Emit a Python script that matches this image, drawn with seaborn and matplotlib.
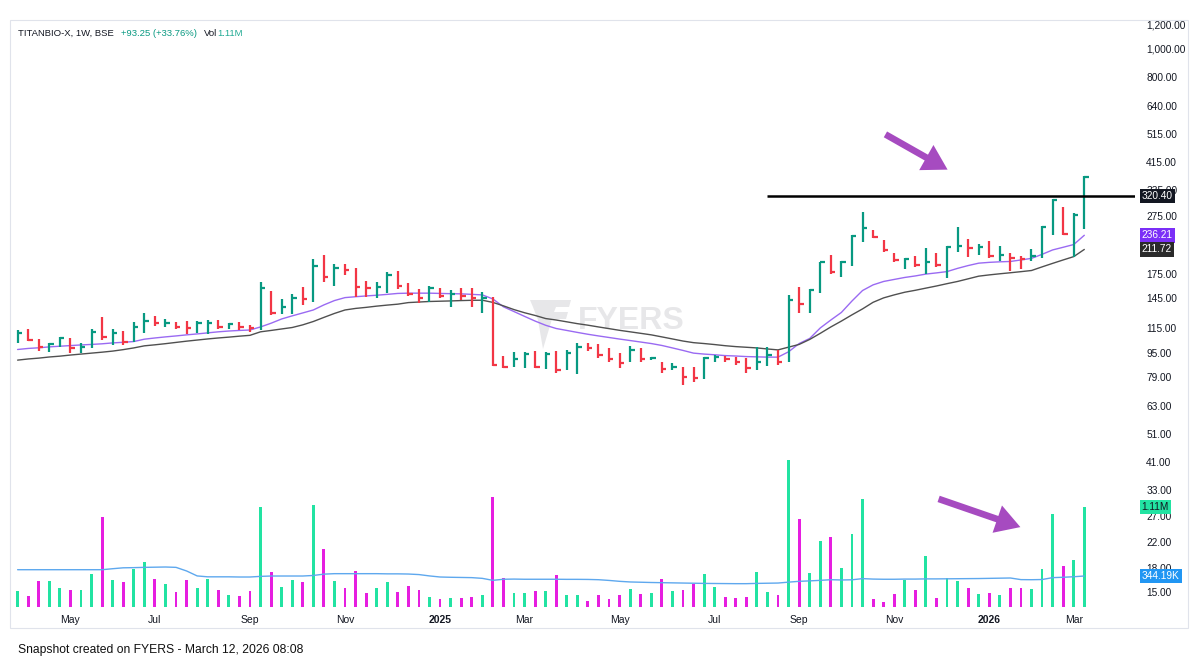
import numpy as np
import pandas as pd
import matplotlib
matplotlib.use("Agg")
import matplotlib.pyplot as plt
import seaborn as sns
from matplotlib.patches import FancyArrowPatch, Rectangle, Polygon
from matplotlib.transforms import blended_transform_factory
from matplotlib.ticker import FixedLocator, NullLocator

# weekly bars TITANBIO-X (BSE), Apr 2024 -> Mar 2026
first_week = "2024-04-01"

high = [113.6, 114.5, 105.7, 102.6, 107.4, 106.5, 103.0, 114.2, 125.4, 114.5,
        113.0, 120.6, 129.3, 126.9, 123.7, 121.2, 121.8, 121.8, 122.7, 122.7,
        119.7, 121.2, 118.2, 164.4, 154.0, 144.4, 149.8, 158.9, 196.3, 203.0,
        189.4, 189.4, 183.1, 166.3, 164.4, 178.3, 179.3, 163.1, 155.7, 159.7,
        157.0, 154.8, 157.7, 157.0, 152.1, 147.0, 93.0, 96.1, 96.1, 96.7,
        96.1, 96.7, 97.4, 102.6, 103.0, 101.8, 98.7, 95.0, 100.5, 98.7,
        92.5, 89.0, 87.9, 85.6, 85.6, 92.5, 93.8, 93.0, 92.5, 91.3,
        99.9, 99.5, 97.4, 148.9, 158.9, 155.7, 192.5, 203.0, 193.5, 237.0,
        283.6, 246.1, 227.8, 206.7, 198.0, 201.5, 213.6, 205.7, 216.6, 250.9,
        229.0, 221.0, 226.6, 217.5, 206.7, 201.5, 212.5, 253.1, 312.5, 294.3,
        280.6, 372.1]
low = [102.6, 104.3, 96.9, 95.9, 99.9, 95.0, 95.0, 98.7, 105.1, 101.3,
       101.3, 103.8, 111.3, 117.2, 116.6, 114.2, 109.9, 110.8, 109.9, 114.2,
       114.2, 113.6, 112.2, 114.0, 127.7, 128.3, 128.3, 137.9, 140.5, 164.4,
       160.1, 173.9, 147.0, 147.0, 145.9, 150.8, 155.7, 147.8, 139.6, 140.5,
       145.2, 136.1, 143.2, 136.1, 129.3, 86.1, 84.5, 85.2, 84.5, 84.5,
       83.9, 81.3, 83.4, 80.7, 96.7, 91.3, 89.0, 84.5, 89.0, 89.0,
       90.1, 81.7, 83.4, 74.3, 76.2, 77.6, 89.0, 89.0, 86.8, 81.3,
       83.4, 86.1, 86.8, 89.0, 129.3, 129.3, 151.6, 175.2, 171.6, 185.6,
       224.9, 230.9, 208.2, 192.5, 181.6, 184.5, 175.2, 184.5, 169.5, 208.2,
       199.0, 203.0, 198.0, 193.6, 179.6, 181.6, 193.6, 198.0, 237.0, 237.0,
       199.7, 247.5]
close = [111.3, 105.1, 99.5, 101.8, 106.5, 98.7, 99.9, 112.2, 107.4, 110.8,
         103.8, 116.6, 122.0, 119.7, 120.2, 116.0, 115.8, 119.7, 120.2, 116.0,
         118.8, 116.6, 115.1, 157.7, 129.9, 136.0, 145.9, 144.2, 186.9, 171.6,
         184.0, 180.6, 158.9, 157.5, 158.2, 173.1, 160.1, 149.8, 145.2, 157.0,
         148.2, 149.8, 147.8, 145.2, 145.9, 86.8, 85.5, 90.6, 94.5, 85.2,
         94.5, 83.4, 95.0, 99.9, 98.7, 93.8, 90.6, 87.9, 97.4, 90.6,
         91.8, 83.9, 85.2, 79.2, 78.2, 91.3, 92.5, 90.6, 89.0, 84.5,
         89.0, 93.8, 89.0, 143.2, 139.0, 154.8, 191.4, 178.3, 191.4, 235.1,
         249.4, 232.6, 210.9, 195.2, 196.3, 188.1, 192.5, 188.1, 215.6, 216.6,
         213.6, 215.6, 201.5, 203.0, 198.0, 196.3, 201.5, 250.9, 310.3, 238.8,
         276.2, 369.45]

# moving averages shown on the chart
ma_fast = [97.7, 98.5, 99.0, 99.7, 100.2, 100.7, 101.2, 101.6, 102.1, 102.8,
           103.3, 103.9, 105.8, 106.8, 107.7, 108.5, 109.4, 110.2, 111.1, 112.0,
           112.7, 113.2, 113.6, 116.3, 119.7, 123.7, 126.7, 129.6, 132.6, 137.9,
           142.6, 145.9, 146.9, 147.8, 148.6, 149.6, 150.7, 151.0, 151.0, 151.0,
           150.7, 150.4, 150.2, 149.6, 149.0, 144.4, 135.9, 131.0, 126.2, 121.7,
           117.8, 114.9, 113.2, 111.5, 109.9, 108.5, 107.2, 105.9, 104.7, 103.5,
           102.3, 100.8, 98.9, 97.0, 95.0, 94.3, 93.8, 93.2, 92.9, 92.5,
           92.3, 92.1, 92.1, 96.0, 102.3, 106.4, 115.4, 122.7, 130.1, 142.1,
           154.1, 161.0, 165.3, 167.9, 170.5, 172.5, 175.0, 176.6, 178.4, 182.9,
           186.9, 190.4, 191.6, 192.4, 192.9, 195.2, 197.6, 203.8, 210.9, 215.3,
           219.9, 236.21]
ma_slow = [90.0, 90.8, 91.4, 92.2, 92.8, 93.6, 94.3, 95.0, 95.7, 96.5,
           97.6, 98.9, 100.5, 101.3, 102.2, 103.2, 104.2, 105.1, 106.0, 106.8,
           107.5, 108.3, 109.0, 112.0, 113.2, 114.5, 115.8, 118.2, 121.3, 125.2,
           129.1, 132.6, 134.2, 135.3, 136.6, 137.7, 138.7, 140.4, 141.0, 141.6,
           141.9, 142.2, 142.6, 142.9, 143.0, 140.6, 136.9, 133.0, 129.8, 127.1,
           124.1, 122.7, 121.0, 119.3, 117.9, 116.3, 114.8, 113.3, 112.0, 110.7,
           109.4, 107.7, 106.0, 104.3, 103.0, 102.3, 101.5, 100.6, 99.9, 99.4,
           98.9, 98.1, 97.4, 99.5, 101.6, 105.6, 110.7, 116.3, 121.7, 127.7,
           133.7, 140.7, 145.6, 149.0, 152.1, 154.4, 157.0, 159.6, 162.5, 165.3,
           168.7, 172.2, 173.9, 175.4, 176.8, 178.3, 179.9, 185.0, 190.1, 195.2,
           200.3, 211.72]

# volume in thousands
volume = [174, 118, 289, 285, 215, 189, 189, 363, 999, 296,
          281, 422, 500, 315, 255, 163, 296, 207, 311, 189,
          137, 118, 181, 1110, 392, 222, 296, 281, 1136, 644,
          289, 215, 400, 155, 215, 281, 163, 229, 189, 111,
          89, 104, 104, 111, 130, 1221, 326, 152, 152, 174,
          174, 355, 137, 130, 67, 130, 85, 130, 196, 144,
          152, 307, 178, 185, 259, 363, 222, 111, 104, 111,
          389, 163, 130, 1628, 973, 381, 733, 777, 433, 807,
          1203, 85, 52, 141, 303, 185, 562, 96, 322, 289,
          207, 144, 152, 133, 215, 207, 196, 426, 1036, 451,
          518, 1110]
vol_ma = [414, 414, 414, 414, 414, 414, 414, 414, 414, 425,
          435, 437, 440, 442, 444, 440, 400, 345, 335, 335,
          335, 333, 333, 340, 344, 344, 344, 344, 350, 365,
          370, 370, 370, 370, 370, 368, 368, 366, 360, 345,
          333, 330, 328, 326, 318, 296, 308, 310, 308, 308,
          308, 308, 307, 307, 306, 303, 295, 285, 278, 275,
          272, 270, 268, 266, 264, 262, 261, 260, 259, 259,
          262, 264, 266, 276, 285, 290, 296, 303, 300, 302,
          315, 310, 308, 308, 310, 310, 312, 312, 313, 314,
          315, 316, 318, 320, 322, 304, 303, 305, 326, 330,
          336, 344.19]

resistance = 320.40
resistance_from = 71
price_ticks = [1200, 1000, 800, 640, 515, 415, 335, 275, 175, 145, 115,
               95, 79, 63, 51, 41, 33, 27, 22, 18, 15]

UP, DOWN = "#089981", "#f23645"
VUP, VDOWN = "#22e3a2", "#e61ee0"

df = pd.DataFrame({"high": high, "low": low, "close": close,
                   "ma_fast": ma_fast, "ma_slow": ma_slow,
                   "volume": volume, "vol_ma": vol_ma})
df["date"] = pd.date_range(first_week, periods=len(df), freq="W-MON")
df["i"] = np.arange(len(df))
df["up"] = df["close"] >= df["close"].shift(1).fillna(0)

sns.set_theme(style="white")
plt.rcParams["font.family"] = ["Liberation Sans", "DejaVu Sans"]

W, H = 1200, 666
fig = plt.figure(figsize=(W / 100, H / 100), dpi=100)
ax = fig.add_axes([11 / W, 58 / H, 1124 / W, 588 / H])
ax2 = ax.twinx()

# watermark (behind the bars)
ax.text(0.5516, 0.488, "FYERS", transform=ax.transAxes, fontsize=23, fontweight="bold",
        color="#e7e7e9", ha="center", va="center", zorder=0)
logo = [(530, 300), (571, 300), (569, 307), (556, 307), (554, 312), (568, 312),
        (566, 319), (552, 319), (543, 349), (538, 320), (533, 307)]
ax.add_patch(Polygon([(x / W, 1 - y / H) for x, y in logo], closed=True,
                     transform=fig.transFigure, fc="#e7e7e9", ec="none", zorder=0))

# price bars (HLC)
pcol = np.where(df["up"], UP, DOWN)
ax.vlines(df["i"], df["low"], df["high"], colors=pcol, linewidth=1.6, zorder=3)
ax.hlines(df["close"], df["i"], df["i"] + 0.42, colors=pcol, linewidth=1.6, zorder=3)

sns.lineplot(data=df, x="i", y="ma_fast", ax=ax, color="#9a6af2", linewidth=1.0, zorder=2)
sns.lineplot(data=df, x="i", y="ma_slow", ax=ax, color="#505050", linewidth=1.0, zorder=2)

ax.set_yscale("log")
ax.set_ylim(13.25, 1247)
ax.set_xlim(-0.625, 105.8)
ax.hlines(resistance, resistance_from, 105.8, color="black", linewidth=1.8, zorder=4)

# volume pane
vcol = np.where(df["up"], VUP, VDOWN)
ax2.bar(df["i"], df["volume"], width=0.27, color=vcol, linewidth=0)
sns.lineplot(data=df, x="i", y="vol_ma", ax=ax2, color="#5ea8ee", linewidth=1.0)
ax2.set_ylim(-11, 6515)
ax2.set_yticks([])
ax2.set_ylabel("")

# axes cosmetics
ax.yaxis.tick_right()
ax.yaxis.set_major_locator(FixedLocator(price_ticks))
ax.yaxis.set_minor_locator(NullLocator())
ax.set_yticklabels([f"{t:,.2f}" for t in price_ticks])
ax.tick_params(axis="y", length=0, pad=8, labelsize=7.3, labelcolor="#131722")

new_month = df["date"].dt.month != df["date"].dt.month.shift(1)
mask = new_month & (df["date"].dt.month % 2 == 1) & (df["i"] > 0)
xt = df.loc[mask, "i"].tolist()
xl = [str(d.year) if d.month == 1 else d.strftime("%b") for d in df.loc[mask, "date"]]
ax.set_xticks(xt)
ax.set_xticklabels(xl)
ax.tick_params(axis="x", length=0, pad=5, labelsize=7.5, labelcolor="#131722")
for lab in ax.get_xticklabels():
    if lab.get_text().isdigit():
        lab.set_fontweight("bold")
ax.set_xlabel("")
ax.set_ylabel("")
ax.grid(False)
for a in (ax, ax2):
    for s in a.spines.values():
        s.set_visible(False)

# value tags on the scale
tp = blended_transform_factory(ax.transAxes, ax.transData)
tv = blended_transform_factory(ax2.transAxes, ax2.transData)
tags = [(ax, tp, resistance, f"{resistance:.2f}", "#131722", "white"),
        (ax, tp, ma_fast[-1], f"{ma_fast[-1]:.2f}", "#7b2ff7", "white"),
        (ax, tp, ma_slow[-1], f"{ma_slow[-1]:.2f}", "#2a2a2a", "white"),
        (ax2, tv, volume[-1], "1.11M", "#22e3a2", "#131722"),
        (ax2, tv, vol_ma[-1], f"{vol_ma[-1]:.2f}K", "#2196f3", "white")]
for a, tr, yv, txt, bg, fg in tags:
    a.text(1.006, yv, txt, transform=tr, ha="left", va="center", fontsize=7.3,
           color=fg, zorder=10, clip_on=False,
           bbox=dict(boxstyle="square,pad=0.22", fc=bg, ec="none"))

# header, each piece placed right after the previous one
yh = 1 - 33 / H
anchor = fig.text(18 / W, yh, "TITANBIO-X, 1W, BSE", fontsize=6.8, color="#131722", va="center")
for txt, col, gap in [("+93.25 (+33.76%)", UP, 5), ("Vol", "#131722", 5), ("1.11M", "#22ab94", 0.5)]:
    anchor = ax.annotate(txt, xy=(1, 0.5), xycoords=anchor, xytext=(gap, 0),
                         textcoords="offset points", fontsize=6.8, color=col,
                         va="center", ha="left", annotation_clip=False)

# arrows
for p0, p1 in [((883, 133), (950, 171)), ((936, 498), (1023, 528))]:
    fig.add_artist(FancyArrowPatch((p0[0] / W, 1 - p0[1] / H), (p1[0] / W, 1 - p1[1] / H),
                                   transform=fig.transFigure,
                                   arrowstyle="simple,head_length=1.1,head_width=1.3,tail_width=0.3",
                                   mutation_scale=16, color="#a64bc0", linewidth=0))

# widget frame and footer
fig.add_artist(Rectangle((10 / W, 1 - 628 / H), 1178 / W, 608 / H, transform=fig.transFigure,
                         fill=False, ec="#e0e3eb", lw=0.8))
fig.text(18 / W, 1 - 650 / H, "Snapshot created on FYERS - March 12, 2026 08:08",
         fontsize=8.7, color="#111111", va="center")

fig.savefig("out.png", dpi=100)
